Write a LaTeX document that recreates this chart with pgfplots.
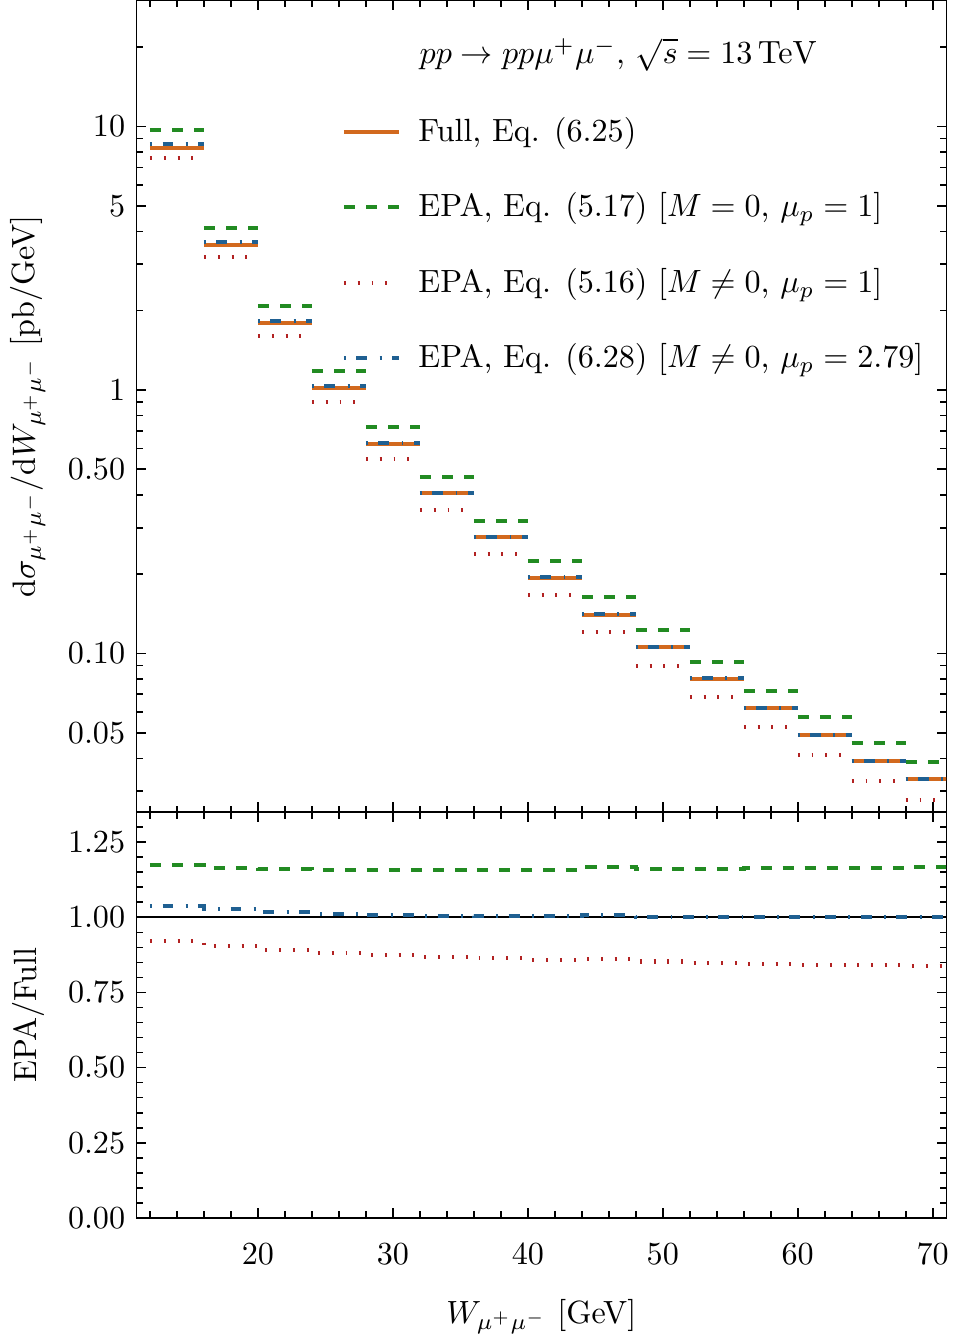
\documentclass[border=0pt]{standalone}
\usepackage{pgfplots}
\usepackage{pgfplotstable}
\pgfplotsset{compat=1.18}

\definecolor{cfull}{RGB}{210,105,30}
\definecolor{cgreen}{RGB}{34,139,34}
\definecolor{cred}{RGB}{178,34,34}
\definecolor{cblue}{RGB}{31,96,146}

% left bin edges; last row repeats the final bin to close it
\pgfplotstableread{
x   full    epa0    epaM    epaMu   rg     rr     rb
12  8.254   9.682   7.594   8.568   1.173  0.920  1.038
16  3.548   4.130   3.204   3.644   1.164  0.903  1.027
20  1.797   2.085   1.599   1.829   1.160  0.890  1.018
24  1.020   1.181   0.8986  1.032   1.158  0.881  1.012
28  0.6234  0.7207  0.5449  0.6284  1.156  0.874  1.008
32  0.4053  0.4685  0.3518  0.4073  1.156  0.868  1.005
36  0.2760  0.3196  0.2385  0.2768  1.158  0.864  1.003
40  0.1941  0.2248  0.1667  0.1947  1.158  0.859  1.003
44  0.1402  0.1635  0.1207  0.1415  1.166  0.861  1.009
48  0.1055  0.1225  0.0900  0.1057  1.161  0.853  1.002
52  0.0803  0.0932  0.0681  0.0804  1.161  0.848  1.001
56  0.0622  0.0723  0.0526  0.0622  1.163  0.845  1.000
60  0.0491  0.0572  0.0413  0.0491  1.164  0.842  1.000
64  0.0392  0.0457  0.0329  0.0392  1.165  0.840  1.000
68  0.0333  0.0389  0.0279  0.0333  1.168  0.839  1.000
72  0.0333  0.0389  0.0279  0.0333  1.168  0.839  1.000
}\datatab

\pgfplotsset{legend image code/.code={\draw[#1] (0cm,0cm) -- (0.6cm,0cm);}}

\begin{document}
\begin{tikzpicture}
\pgfplotsset{
  every axis/.append style={
    scale only axis, width=252pt, xmin=11, xmax=71,
    tick align=inside, xtick pos=both, ytick pos=both,
    major tick length=3pt, minor tick length=2pt,
    tick style={black, line width=0.5pt},
    xtick={20,30,...,70}, minor xtick={12,14,...,70},
  },
  sfull/.style={cfull, line width=1.25pt},
  sepa0/.style={cgreen, line width=1.25pt, dash pattern=on 3.5pt off 3.4pt},
  sepaM/.style={cred, line width=1.25pt, dash pattern=on 0.6pt off 3.7pt},
  sepaMu/.style={cblue, line width=1.25pt, dash pattern=on 0.6pt off 3.3pt on 3.4pt off 3.8pt},
}

\begin{axis}[
  name=top, height=252.5pt,
  ymode=log, ymin=0.025, ymax=30,
  xticklabels={},
  ytick={0.05,0.1,0.5,1,5,10},
  yticklabels={0.05,0.10,0.50,1,5,10},
  minor ytick={0.03,0.04,0.06,0.07,0.08,0.09,0.2,0.3,0.4,0.6,0.7,0.8,0.9,2,3,4,6,7,8,9,20},
  ylabel={$\mathrm{d}\sigma_{\mu^+\mu^-}/\mathrm{d}W_{\mu^+\mu^-}$ [pb/GeV]},
  ylabel style={at={(axis description cs:-0.134,0.5)}, anchor=center},
  legend cell align=left,
  legend style={draw=none, fill=none, at={(axis description cs:0.241,0.873)},
    anchor=north west, row sep=10.5pt, column sep=3.5pt},
]
\addplot[sfull, jump mark left] table[x=x, y=full] {\datatab};
\addlegendentry{Full, Eq. (6.25)}
\addplot[sepa0, jump mark left] table[x=x, y=epa0] {\datatab};
\addlegendentry{EPA, Eq. (5.17) [$M=0$, $\mu_p=1$]}
\addplot[sepaM, jump mark left] table[x=x, y=epaM] {\datatab};
\addlegendentry{EPA, Eq. (5.16) [$M\neq0$, $\mu_p=1$]}
\addplot[sepaMu, jump mark left] table[x=x, y=epaMu] {\datatab};
\addlegendentry{EPA, Eq. (6.28) [$M\neq0$, $\mu_p=2.79$]}
\node[anchor=base west, inner sep=0pt] at (axis description cs:0.349,0.9225)
  {$pp \to pp\mu^+\mu^-$,\ $\sqrt{s} = 13\,\mathrm{TeV}$};
\end{axis}

\begin{axis}[
  at={(top.south west)}, anchor=north west, height=126.3pt,
  ymin=0, ymax=1.35,
  ytick={0,0.25,0.5,0.75,1,1.25},
  minor ytick={0.05,0.1,...,1.31},
  yticklabel style={/pgf/number format/.cd, fixed, fixed zerofill, precision=2},
  xticklabel style={yshift=-4.5pt, inner xsep=2.3pt},
  xlabel={$W_{\mu^+\mu^-}$ [GeV]},
  xlabel style={at={(axis description cs:0.5,-0.243)}, anchor=center, inner ysep=1pt},
  ylabel={EPA/Full},
  ylabel style={at={(axis description cs:-0.134,0.5)}, anchor=center},
]
\addplot[black, line width=0.6pt] coordinates {(11,1) (71,1)};
\addplot[sepa0, const plot mark left] table[x=x, y=rg] {\datatab};
\addplot[sepaM, const plot mark left] table[x=x, y=rr] {\datatab};
\addplot[sepaMu, const plot mark left] table[x=x, y=rb] {\datatab};
\end{axis}
\end{tikzpicture}
\end{document}
